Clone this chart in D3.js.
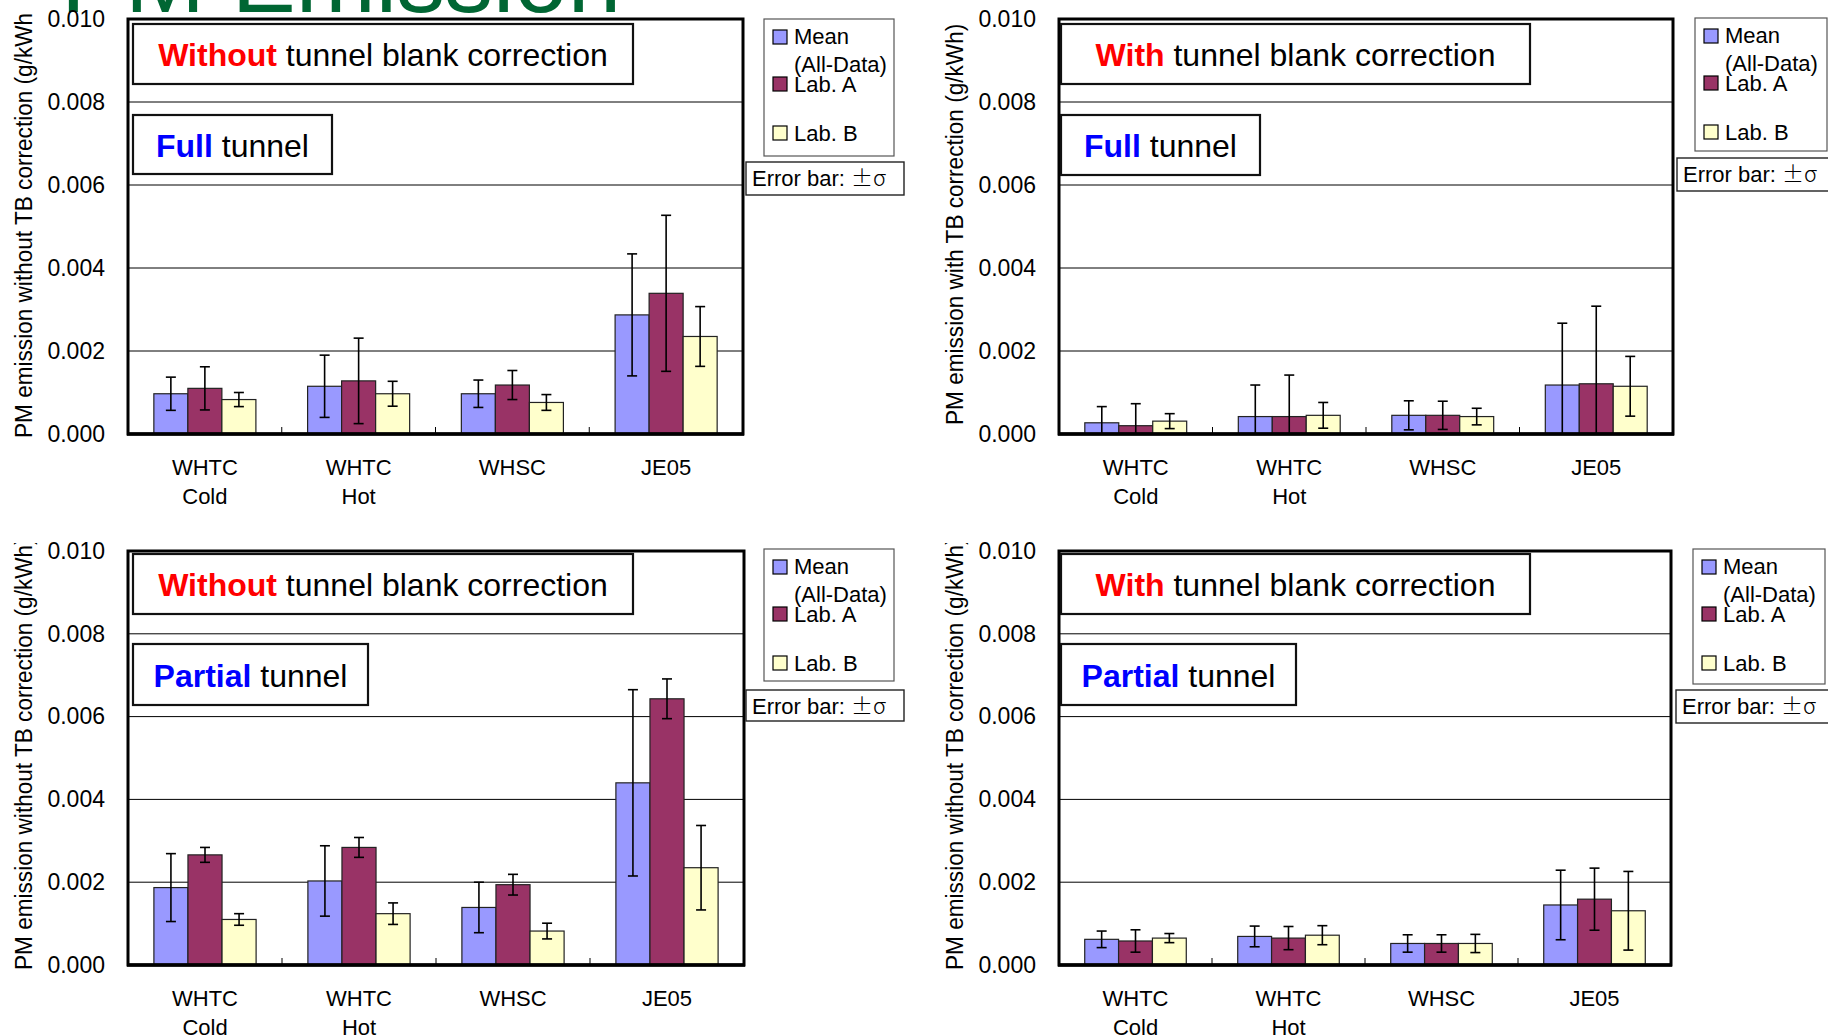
<!DOCTYPE html>
<html>
<head>
<meta charset="utf-8">
<script src="https://cdn.jsdelivr.net/npm/d3@7"></script>
<style>
  html, body { margin: 0; padding: 0; background: #fff; overflow: hidden; }
  svg { display: block; font-family: "Liberation Sans", Arial, sans-serif; }
</style>
</head>
<body>
<svg id="chart" width="1828" height="1036"></svg>
<script>
// ---- data (g/kWh) ----
const categories = [["WHTC", "Cold"], ["WHTC", "Hot"], ["WHSC"], ["JE05"]];
const seriesNames = ["Mean (All-Data)", "Lab. A", "Lab. B"];
const yTicks = [0, 0.002, 0.004, 0.006, 0.008, 0.010];

// Full tunnel, without tunnel blank correction
const fullWithoutMean = [0.00097, 0.00115, 0.00097, 0.00287];
const fullWithoutMeanSd = [0.0004, 0.00075, 0.00033, 0.00147];
const fullWithoutLabA = [0.0011, 0.00128, 0.00118, 0.00339];
const fullWithoutLabASd = [0.00052, 0.00103, 0.00035, 0.00188];
const fullWithoutLabB = [0.00083, 0.00097, 0.00076, 0.00235];
const fullWithoutLabBSd = [0.00017, 0.0003, 0.00019, 0.00072];

// Full tunnel, with tunnel blank correction
const fullWithMean = [0.00027, 0.00042, 0.00045, 0.00118];
const fullWithMeanSd = [0.00039, 0.00076, 0.00035, 0.00149];
const fullWithLabA = [0.0002, 0.00042, 0.00045, 0.00121];
const fullWithLabASd = [0.00053, 0.001, 0.00034, 0.00187];
const fullWithLabB = [0.00031, 0.00045, 0.00042, 0.00115];
const fullWithLabBSd = [0.00018, 0.00031, 0.0002, 0.00072];

// Partial tunnel, without tunnel blank correction
const partialWithoutMean = [0.00187, 0.00203, 0.00139, 0.0044];
const partialWithoutMeanSd = [0.00082, 0.00085, 0.00061, 0.00225];
const partialWithoutLabA = [0.00266, 0.00284, 0.00194, 0.00643];
const partialWithoutLabASd = [0.00018, 0.00024, 0.00025, 0.00048];
const partialWithoutLabB = [0.0011, 0.00124, 0.00082, 0.00235];
const partialWithoutLabBSd = [0.00014, 0.00026, 0.00019, 0.00102];

// Partial tunnel, with tunnel blank correction
const partialWithMean = [0.00062, 0.00069, 0.00052, 0.00145];
const partialWithMeanSd = [0.0002, 0.00025, 0.00021, 0.00084];
const partialWithLabA = [0.00058, 0.00065, 0.00052, 0.00159];
const partialWithLabASd = [0.00027, 0.00028, 0.00021, 0.00075];
const partialWithLabB = [0.00065, 0.00072, 0.00052, 0.00131];
const partialWithLabBSd = [0.00011, 0.00023, 0.00022, 0.00095];

const colors = ["#9999ff", "#993366", "#ffffcc"];
const legendLines = [["Mean", "(All-Data)"], ["Lab. A"], ["Lab. B"]];

// ---- layout of the four panels ----
const panels = [
  { x: 128, y: 19, w: 615, h: 415, titleX: 32, titleY: 438, clipY: 13,
    yTitle: "PM emission without TB correction (g/kWh)",
    corr: ["Without", " tunnel blank correction"], box1: [133, 24, 500, 60],
    tunnel: ["Full", " tunnel"], box2: [133, 115, 199, 59],
    legend: [764, 19, 130, 137], errBox: [746, 162, 158, 33],
    values: [fullWithoutMean, fullWithoutLabA, fullWithoutLabB],
    sds: [fullWithoutMeanSd, fullWithoutLabASd, fullWithoutLabBSd] },
  { x: 1059, y: 19, w: 614, h: 415, titleX: 963, titleY: 425, clipY: 13,
    yTitle: "PM emission with TB correction (g/kWh)",
    corr: ["With", " tunnel blank correction"], box1: [1061, 24, 469, 60],
    tunnel: ["Full", " tunnel"], box2: [1061, 115, 199, 60],
    legend: [1695, 18, 132, 133], errBox: [1677, 158, 156, 33],
    values: [fullWithMean, fullWithLabA, fullWithLabB],
    sds: [fullWithMeanSd, fullWithLabASd, fullWithLabBSd] },
  { x: 128, y: 551, w: 616, h: 414, titleX: 32, titleY: 970, clipY: 543,
    yTitle: "PM emission without TB correction (g/kWh)",
    corr: ["Without", " tunnel blank correction"], box1: [133, 554, 500, 60],
    tunnel: ["Partial", " tunnel"], box2: [133, 644, 235, 61],
    legend: [764, 549, 130, 132], errBox: [746, 690, 158, 31],
    values: [partialWithoutMean, partialWithoutLabA, partialWithoutLabB],
    sds: [partialWithoutMeanSd, partialWithoutLabASd, partialWithoutLabBSd] },
  { x: 1059, y: 551, w: 612, h: 414, titleX: 963, titleY: 970, clipY: 543,
    yTitle: "PM emission without TB correction (g/kWh)",
    corr: ["With", " tunnel blank correction"], box1: [1061, 554, 469, 60],
    tunnel: ["Partial", " tunnel"], box2: [1061, 644, 235, 61],
    legend: [1693, 549, 132, 135], errBox: [1676, 690, 156, 33],
    values: [partialWithMean, partialWithLabA, partialWithLabB],
    sds: [partialWithMeanSd, partialWithLabASd, partialWithLabBSd] }
];

const svg = d3.select("#chart");

// big slide title, mostly cut off at the top
svg.append("text")
  .attr("x", 61).attr("y", 12)
  .attr("font-size", 96)
  .attr("fill", "#006633")
  .text("PM Emission");

panels.forEach((p, pi) => drawPanel(p, pi));

function drawPanel(p, pi) {
  const g = svg.append("g");

  const x0 = d3.scaleBand()
    .domain(categories.map(c => c.join(" ")))
    .range([p.x, p.x + p.w]);
  const x1 = d3.scaleBand()
    .domain(seriesNames)
    .range([0, x0.bandwidth()])
    .paddingInner(0)
    .paddingOuter(0.76);
  const y = d3.scaleLinear()
    .domain([0, 0.010])
    .range([p.y + p.h, p.y]);

  // gridlines
  g.selectAll(".grid")
    .data(yTicks.slice(1, -1))
    .enter().append("line")
      .attr("x1", p.x).attr("x2", p.x + p.w)
      .attr("y1", d => y(d)).attr("y2", d => y(d))
      .attr("stroke", "#000").attr("stroke-width", 1);

  // bars + error bars
  seriesNames.forEach((s, j) => {
    const rows = categories.map((c, i) => ({
      cat: c.join(" "), v: p.values[j][i], sd: p.sds[j][i]
    }));

    g.selectAll(".bar" + j)
      .data(rows)
      .enter().append("rect")
        .attr("x", d => x0(d.cat) + x1(s))
        .attr("y", d => y(d.v))
        .attr("width", x1.bandwidth())
        .attr("height", d => y(0) - y(d.v))
        .attr("fill", colors[j])
        .attr("stroke", "#222")
        .attr("stroke-width", 1.2);

    const eb = g.selectAll(".err" + j)
      .data(rows)
      .enter().append("g")
        .attr("transform", d => `translate(${x0(d.cat) + x1(s) + x1.bandwidth() / 2},0)`)
        .attr("stroke", "#000").attr("stroke-width", 1.6);
    eb.append("line")
      .attr("y1", d => y(Math.max(0, d.v - d.sd)))
      .attr("y2", d => y(d.v + d.sd));
    eb.append("line")
      .attr("x1", -5).attr("x2", 5)
      .attr("y1", d => y(d.v + d.sd)).attr("y2", d => y(d.v + d.sd));
    eb.filter(d => d.v - d.sd > 0).append("line")
      .attr("x1", -5).attr("x2", 5)
      .attr("y1", d => y(d.v - d.sd)).attr("y2", d => y(d.v - d.sd));
  });

  // small ticks between category groups
  g.selectAll(".ctick")
    .data(categories.slice(1))
    .enter().append("line")
      .attr("x1", d => x0(d.join(" "))).attr("x2", d => x0(d.join(" ")))
      .attr("y1", y(0)).attr("y2", y(0) - 7)
      .attr("stroke", "#000").attr("stroke-width", 1);

  // frame
  g.append("rect")
    .attr("x", p.x).attr("y", p.y)
    .attr("width", p.w).attr("height", p.h)
    .attr("fill", "none")
    .attr("stroke", "#000").attr("stroke-width", 3);
  g.append("line")
    .attr("x1", p.x - 1).attr("x2", p.x + p.w + 1)
    .attr("y1", y(0)).attr("y2", y(0))
    .attr("stroke", "#000").attr("stroke-width", 3.5);

  // y axis labels
  const ya = g.append("g")
    .attr("transform", `translate(${p.x - 23},0)`)
    .call(d3.axisLeft(y).tickValues(yTicks).tickFormat(d3.format(".3f")).tickSize(0).tickPadding(0));
  ya.select(".domain").remove();
  ya.attr("font-family", null).attr("font-size", null);
  ya.selectAll("text").attr("font-size", 23).attr("fill", "#000");

  // x category labels
  const xa = g.append("g")
    .attr("transform", `translate(0,${y(0)})`)
    .call(d3.axisBottom(x0).tickSize(0).tickFormat(""));
  xa.select(".domain").remove();
  xa.attr("font-family", null).attr("font-size", null);
  xa.selectAll(".tick text").each(function (d) {
    const t = d3.select(this).attr("y", 41).attr("dy", null)
      .attr("font-size", 22).attr("fill", "#000");
    d.split(" ").forEach((w, k) => {
      t.append("tspan").attr("x", 0).attr("y", 41 + k * 29).text(w);
    });
  });

  // rotated y title, clipped at the top like the slide
  const clipId = "clip" + pi;
  svg.append("clipPath").attr("id", clipId)
    .append("rect")
      .attr("x", p.titleX - 30).attr("y", p.clipY)
      .attr("width", 40).attr("height", p.titleY - p.clipY + 10);
  svg.append("g")
    .attr("clip-path", `url(#${clipId})`)
    .append("text")
      .attr("transform", `translate(${p.titleX},${p.titleY}) rotate(-90) scale(1,1.07)`)
      .attr("font-size", 22.6)
      .attr("fill", "#000")
      .text(p.yTitle);

  // annotation boxes
  [[p.box1, p.corr, "#ff0000"], [p.box2, p.tunnel, "#0000ff"]].forEach(([b, words, col]) => {
    g.append("rect")
      .attr("x", b[0]).attr("y", b[1]).attr("width", b[2]).attr("height", b[3])
      .attr("fill", "#fff").attr("stroke", "#111").attr("stroke-width", 2.2);
    const t = g.append("text")
      .attr("x", b[0] + b[2] / 2).attr("y", b[1] + b[3] / 2 + 12)
      .attr("text-anchor", "middle")
      .attr("font-size", 32);
    t.append("tspan").attr("font-weight", "bold").attr("fill", col).text(words[0]);
    t.append("tspan").attr("fill", "#000").text(words[1]);
  });

  // legend
  const L = p.legend;
  const lg = g.append("g").attr("transform", `translate(${L[0]},${L[1]})`);
  lg.append("rect")
    .attr("width", L[2]).attr("height", L[3])
    .attr("fill", "#fff").attr("stroke", "#555").attr("stroke-width", 1.2);
  const sqY = [11, 58, 107];
  const lineY = [[25, 53], [73], [122]];
  legendLines.forEach((lines, j) => {
    lg.append("rect")
      .attr("x", 9).attr("y", sqY[j]).attr("width", 14).attr("height", 14)
      .attr("fill", colors[j]).attr("stroke", "#000").attr("stroke-width", 1.2);
    lines.forEach((ln, k) => {
      lg.append("text")
        .attr("x", 30).attr("y", lineY[j][k])
        .attr("font-size", 22).attr("fill", "#000")
        .text(ln);
    });
  });

  // error bar note
  const E = p.errBox;
  g.append("rect")
    .attr("x", E[0]).attr("y", E[1]).attr("width", E[2]).attr("height", E[3])
    .attr("fill", "#fff").attr("stroke", "#222").attr("stroke-width", 1.4);
  const et = g.append("text")
    .attr("x", E[0] + 6).attr("y", E[1] + 24)
    .attr("font-size", 22).attr("fill", "#000")
    .text("Error bar: ");
  et.append("tspan")
    .attr("font-family", "'Noto Sans CJK JP', 'Liberation Sans', sans-serif")
    .attr("font-weight", 300)
    .text("\u00b1\u03c3");
}
</script>
</body>
</html>
